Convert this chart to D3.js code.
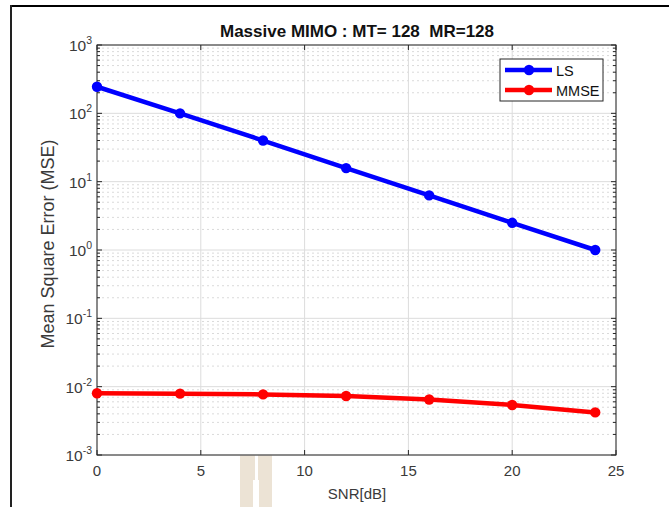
<!DOCTYPE html>
<html><head><meta charset="utf-8">
<script src="https://cdn.jsdelivr.net/npm/d3@7/dist/d3.min.js"></script>
<style>body{margin:0;background:#fff}svg{display:block}text{font-family:"Liberation Sans",Arial,sans-serif;white-space:pre}</style>
</head><body><svg id="c" width="669" height="507"></svg>
<script>
const snr = [0, 4, 8, 12, 16, 20, 24];
const lsValues = [245, 100, 40, 15.8, 6.3, 2.5, 1.0];
const mmseValues = [0.0080, 0.0079, 0.0077, 0.0073, 0.0065, 0.0054, 0.0042];
const seriesNames = ["LS", "MMSE"];
const seriesColors = ["#0000ff", "#ff0000"];
const xTicks = [0, 5, 10, 15, 20, 25];
const yExpAll = [-3, -2, -1, 0, 1, 2, 3];
const titleText = "Massive MIMO : MT= 128  MR=128";
const xLabel = "SNR[dB]";
const yLabel = "Mean Square Error (MSE)";

const svg = d3.select("#c");
const L = 97, R = 616, T = 45, B = 455;
const x = d3.scaleLinear().domain([0, 25]).range([L, R]);
const y = d3.scaleLog().domain([1e-3, 1e3]).range([B, T]);

// page frame lines
svg.append("line").attr("x1", 10).attr("x2", 669).attr("y1", 6).attr("y2", 6).attr("stroke", "#000").attr("stroke-width", 2.2);
svg.append("line").attr("x1", 11).attr("x2", 11).attr("y1", 5).attr("y2", 507).attr("stroke", "#222").attr("stroke-width", 2);

// watermark
const wm = svg.append("g").attr("fill", "#ece3d5");
wm.append("rect").attr("x", 240).attr("y", 422).attr("width", 15).attr("height", 85);
wm.append("rect").attr("x", 258).attr("y", 422).attr("width", 14).attr("height", 85);
svg.append("rect").attr("x", 253).attr("y", 480).attr("width", 6).attr("height", 27).attr("fill", "#fff");

const g = svg.append("g");
g.append("rect").attr("x", L).attr("y", T).attr("width", R - L).attr("height", B - T).attr("fill", "#fff");

// minor grid
const minors = [];
for (let e = -3; e < 3; e++) for (let m = 2; m <= 9; m++) minors.push(m * Math.pow(10, e));
g.selectAll(".mg").data(minors).enter().append("line")
  .attr("x1", L).attr("x2", R).attr("y1", d => y(d)).attr("y2", d => y(d))
  .attr("stroke", "#dadada").attr("stroke-width", 1).attr("stroke-dasharray", "2,3");
// major grid
g.selectAll(".gy").data(yExpAll).enter().append("line")
  .attr("x1", L).attr("x2", R).attr("y1", d => y(Math.pow(10, d))).attr("y2", d => y(Math.pow(10, d)))
  .attr("stroke", "#dcdcdc").attr("stroke-width", 1);
g.selectAll(".gx").data(xTicks).enter().append("line")
  .attr("x1", d => x(d)).attr("x2", d => x(d)).attr("y1", T).attr("y2", B)
  .attr("stroke", "#dcdcdc").attr("stroke-width", 1);

// axes box
const axc = "#262626";
const ax = svg.append("g").attr("stroke", axc).attr("stroke-width", 1).attr("fill", "none");
ax.append("rect").attr("x", L).attr("y", T).attr("width", R - L).attr("height", B - T);
xTicks.forEach(d => {
  ax.append("line").attr("x1", x(d)).attr("x2", x(d)).attr("y1", B).attr("y2", B - 5);
  ax.append("line").attr("x1", x(d)).attr("x2", x(d)).attr("y1", T).attr("y2", T + 5);
});
yExpAll.forEach(e => {
  const yy = y(Math.pow(10, e));
  ax.append("line").attr("x1", L).attr("x2", L + 5).attr("y1", yy).attr("y2", yy);
  ax.append("line").attr("x1", R).attr("x2", R - 5).attr("y1", yy).attr("y2", yy);
});
minors.forEach(d => {
  const yy = y(d);
  ax.append("line").attr("x1", L).attr("x2", L + 3).attr("y1", yy).attr("y2", yy);
  ax.append("line").attr("x1", R).attr("x2", R - 3).attr("y1", yy).attr("y2", yy);
});

// tick labels
svg.selectAll(".xt").data(xTicks).enter().append("text")
  .attr("x", d => x(d)).attr("y", B + 21).attr("text-anchor", "middle")
  .attr("font-size", 15).attr("fill", "#3a3a3a").text(d => d);
yExpAll.forEach(e => {
  const t = svg.append("text").attr("x", 92).attr("y", y(Math.pow(10, e)) + 6)
    .attr("text-anchor", "end").attr("font-size", 15.5).attr("fill", "#3a3a3a");
  t.append("tspan").text("10");
  t.append("tspan").attr("dy", -7).attr("font-size", 10.5).text(e);
});

// labels
svg.append("text").attr("x", 357).attr("y", 37).attr("text-anchor", "middle")
  .attr("font-size", 17).attr("font-weight", "bold").attr("fill", "#111").text(titleText);
svg.append("text").attr("x", 357).attr("y", 499).attr("text-anchor", "middle")
  .attr("font-size", 15).attr("fill", "#3a3a3a").text(xLabel);
svg.append("text").attr("transform", `translate(54,244) rotate(-90)`).attr("text-anchor", "middle")
  .attr("font-size", 18).attr("fill", "#3a3a3a").text(yLabel);

// series
const series = [lsValues, mmseValues];
const line = d3.line().x((d, i) => x(snr[i])).y(d => y(d));
series.forEach((vals, k) => {
  svg.append("path").datum(vals).attr("d", line).attr("fill", "none")
    .attr("stroke", seriesColors[k]).attr("stroke-width", 4.5).attr("stroke-linejoin", "round");
  svg.selectAll(".p" + k).data(vals).enter().append("circle")
    .attr("cx", (d, i) => x(snr[i])).attr("cy", d => y(d)).attr("r", 5.2)
    .attr("fill", seriesColors[k]);
});

// legend
const lg = svg.append("g");
lg.append("rect").attr("x", 500).attr("y", 59).attr("width", 103).attr("height", 42)
  .attr("fill", "#fff").attr("stroke", "#262626").attr("stroke-width", 1);
seriesNames.forEach((n, k) => {
  const yy = 70 + k * 20;
  lg.append("line").attr("x1", 505).attr("x2", 552).attr("y1", yy).attr("y2", yy)
    .attr("stroke", seriesColors[k]).attr("stroke-width", 4.5);
  lg.append("circle").attr("cx", 529).attr("cy", yy).attr("r", 5.2).attr("fill", seriesColors[k]);
  lg.append("text").attr("x", 556).attr("y", yy + 5.5).attr("font-size", 14.5).attr("fill", "#111").text(n);
});
</script></body></html>
